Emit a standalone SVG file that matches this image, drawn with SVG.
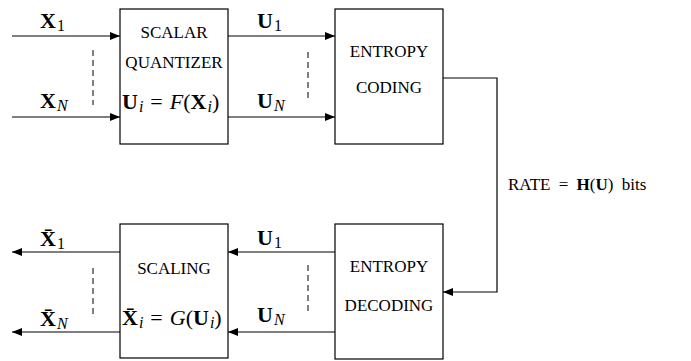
<svg xmlns="http://www.w3.org/2000/svg" width="691" height="361" viewBox="0 0 691 361">
<style>
.box{fill:#fff;stroke:#000;stroke-width:1.2}
.ln{fill:none;stroke:#000;stroke-width:1.2}
.dash{fill:none;stroke:#000;stroke-width:1;stroke-dasharray:6,4}
.t{font-family:"Liberation Serif","DejaVu Serif",serif;fill:#000}
.sc{font-size:17px}
.m{font-size:22px}
.b{font-weight:bold}
.it{font-style:italic}
.sub{font-size:16px}
</style>
<defs>
<marker id="ah" viewBox="0 0 10 8" refX="10" refY="4" markerWidth="10" markerHeight="8" markerUnits="userSpaceOnUse" orient="auto">
<path d="M0,0 L10,4 L0,8 Z" fill="#000"/>
</marker>
</defs>
<rect width="691" height="361" fill="#fff"/>
<g id="connectors">
<line class="ln" x1="12" y1="36" x2="120" y2="36" marker-end="url(#ah)"/>
<line class="ln" x1="12" y1="117" x2="120" y2="117" marker-end="url(#ah)"/>
<line class="ln" x1="228" y1="36" x2="335" y2="36" marker-end="url(#ah)"/>
<line class="ln" x1="228" y1="117" x2="335" y2="117" marker-end="url(#ah)"/>
<polyline class="ln" points="443,78 497,78 497,292 443,292" marker-end="url(#ah)"/>
<line class="ln" x1="335" y1="252" x2="228" y2="252" marker-end="url(#ah)"/>
<line class="ln" x1="335" y1="332" x2="228" y2="332" marker-end="url(#ah)"/>
<line class="ln" x1="120" y1="252" x2="12" y2="252" marker-end="url(#ah)"/>
<line class="ln" x1="120" y1="332" x2="12" y2="332" marker-end="url(#ah)"/>
<line class="dash" x1="93" y1="50" x2="93" y2="105"/>
<line class="dash" x1="308" y1="52" x2="308" y2="100"/>
<line class="dash" x1="93" y1="268" x2="93" y2="316"/>
<line class="dash" x1="308" y1="265" x2="308" y2="313"/>
<text class="t m" x="40" y="28"><tspan class="b">X</tspan><tspan class="sub" dx="1" dy="3">1</tspan></text>
<text class="t m" x="40" y="108"><tspan class="b">X</tspan><tspan class="sub it" dx="1" dy="3">N</tspan></text>
<text class="t m" x="257" y="28"><tspan class="b">U</tspan><tspan class="sub" dx="1" dy="3">1</tspan></text>
<text class="t m" x="257" y="108"><tspan class="b">U</tspan><tspan class="sub it" dx="1" dy="3">N</tspan></text>
<text class="t m" x="257" y="245"><tspan class="b">U</tspan><tspan class="sub" dx="1" dy="3">1</tspan></text>
<text class="t m" x="257" y="322"><tspan class="b">U</tspan><tspan class="sub it" dx="1" dy="3">N</tspan></text>
<text class="t m" x="40" y="246"><tspan class="b">X̄</tspan><tspan class="sub" dx="1" dy="3">1</tspan></text>
<text class="t m" x="40" y="326"><tspan class="b">X̄</tspan><tspan class="sub it" dx="1" dy="3">N</tspan></text>
<text class="t sc" x="508" y="190" xml:space="preserve">RATE <tspan dx="4">=</tspan> <tspan class="b" dx="4">H</tspan>(<tspan class="b">U</tspan>) <tspan dx="4">bits</tspan></text>
</g>
<g id="quantizer">
<rect class="box" x="120" y="9" width="108" height="135"/>
<text class="t sc" x="174" y="38" text-anchor="middle">SCALAR</text>
<text class="t sc" x="174" y="68" text-anchor="middle">QUANTIZER</text>
<text class="t m" x="122" y="109"><tspan class="b">U</tspan><tspan class="sub it" dx="1" dy="3">i</tspan><tspan dx="7" dy="-3">=</tspan><tspan class="it" dx="7">F</tspan>(<tspan class="b">X</tspan><tspan class="sub it" dx="1" dy="3">i</tspan><tspan dy="-3">)</tspan></text>
</g>
<g id="entropy-coding">
<rect class="box" x="335" y="9" width="108" height="135"/>
<text class="t sc" x="389" y="57" text-anchor="middle">ENTROPY</text>
<text class="t sc" x="389" y="93" text-anchor="middle">CODING</text>
</g>
<g id="scaling">
<rect class="box" x="120" y="224" width="108" height="134"/>
<text class="t sc" x="174" y="274" text-anchor="middle">SCALING</text>
<text class="t m" x="122" y="325"><tspan class="b">X̄</tspan><tspan class="sub it" dx="1" dy="3">i</tspan><tspan dx="7" dy="-3">=</tspan><tspan class="it" dx="7">G</tspan>(<tspan class="b">U</tspan><tspan class="sub it" dx="1" dy="3">i</tspan><tspan dy="-3">)</tspan></text>
</g>
<g id="entropy-decoding">
<rect class="box" x="335" y="224" width="108" height="135"/>
<text class="t sc" x="389" y="272" text-anchor="middle">ENTROPY</text>
<text class="t sc" x="389" y="311" text-anchor="middle">DECODING</text>
</g>
</svg>
